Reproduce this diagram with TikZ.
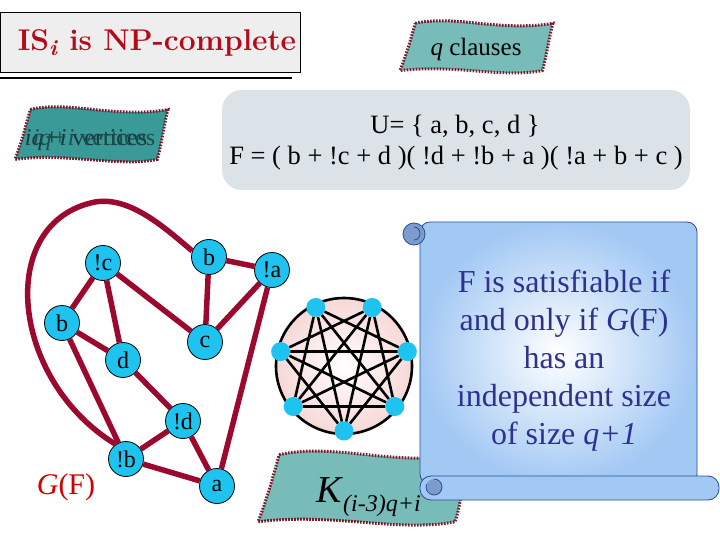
\documentclass[tikz,border=0pt]{standalone}
\usepackage{fontspec}
\newfontfamily\timesf{Liberation Serif}
\definecolor{edgered}{HTML}{9B0A2E}
\definecolor{nodecyan}{HTML}{1EC3EF}
\definecolor{titlered}{HTML}{B5091C}
\definecolor{titlegray}{HTML}{EEEEEE}
\definecolor{teall}{HTML}{77BCB8}
\definecolor{teald}{HTML}{3A9A98}
\definecolor{dotred}{HTML}{7A1A28}
\definecolor{formbg}{HTML}{DCE3E8}
\definecolor{scrollblue}{HTML}{A2C8F4}
\definecolor{curlblue}{HTML}{7C9DCC}
\definecolor{scrollline}{HTML}{2A4C9C}
\definecolor{scrolltext}{HTML}{2E3192}
\definecolor{pinkf}{HTML}{F6D8D6}
\definecolor{gfred}{HTML}{D00000}
\definecolor{vtext}{HTML}{153A3A}
\tikzset{
  gn/.style={circle, fill=nodecyan, draw=black, line width=0.8pt, minimum size=35pt, inner sep=0pt, font=\timesf\fontsize{24}{24}\selectfont},
  kn/.style={circle, fill=nodecyan, draw=none, minimum size=19pt, inner sep=0pt},
  ge/.style={draw=edgered, line width=5.5pt},
  ke/.style={draw=black, line width=2.6pt},
  bannerline/.style={draw=dotred, line width=3pt, dash pattern=on 1.6pt off 1.4pt},
}
\newcommand\mybanner[5]{%
  \begin{scope}[shift={(#1,#2)},x=#3pt,y=-#4pt]
    \draw[bannerline,fill=#5] (0.1,0.06) .. controls (0.35,-0.1) and (0.65,0.22) .. (1,0.06)
      .. controls (0.97,0.35) and (0.96,0.65) .. (0.93,0.92)
      .. controls (0.66,1.06) and (0.36,0.8) .. (0,0.92)
      .. controls (0.04,0.65) and (0.07,0.35) .. (0.1,0.06) -- cycle;
  \end{scope}}
\begin{document}
\begin{tikzpicture}[x=1pt,y=-1pt]
\useasboundingbox (0,0) rectangle (720,540);
% title
\draw[fill=titlegray, line width=0.9pt] (0.5,12) rectangle (300,72);
\node[font=\bfseries\fontsize{30}{30}\selectfont, text=titlered] (title) at (157,43) {IS\raisebox{-5pt}{\fontsize{22}{22}\selectfont\textit{i}} is NP-complete};
\draw[line width=1.2pt] (0,78) -- (292,78);
% banners top
\mybanner{400}{20}{153}{55}{teall}
\node[font=\timesf\fontsize{25}{25}\selectfont] (qc) at (476,49) {\textit{q} clauses};
\mybanner{15}{106}{153}{58}{teald}
\node[font=\timesf\fontsize{24}{24}\selectfont, text=vtext] (vt1) at (86,140) {\textit{iq+i} vertices};
\node[font=\timesf\fontsize{24}{24}\selectfont, text=vtext!80!teald] (vt2) at (94,140) {\textit{iq+i} vertices};
% formula box
\fill[formbg, rounded corners=20pt] (222,90) rectangle (690,190);
\node[font=\timesf\fontsize{26.5}{26.5}\selectfont] (uset) at (455,126) {U= \{ a, b, c, d \}};
\node[font=\timesf\fontsize{26.5}{26.5}\selectfont] (fform) at (456,158) {F = ( b + !c + d )( !d + !b + a )( !a + b + c )};
% graph G(F)
\node[gn] (nc) at (103,263) {!c};
\node[gn] (b1) at (209,257) {b};
\node[gn] (na) at (272,270) {!a};
\node[gn] (b2) at (62,323) {b};
\node[gn] (c) at (205,342) {c};
\node[gn] (d) at (123,360) {d};
\node[gn] (nd) at (183,421) {!d};
\node[gn] (nb) at (126,459) {!b};
\node[gn] (a) at (217,486) {a};
\draw[ge] (nc) -- (b2);
\draw[ge] (nc) -- (d);
\draw[ge] (nc) -- (c);
\draw[ge] (b2) -- (d);
\draw[ge] (b2) -- (nb);
\draw[ge] (d) -- (nd);
\draw[ge] (nd) -- (nb);
\draw[ge] (nd) -- (a);
\draw[ge] (nb) -- (a);
\draw[ge] (b1) -- (na);
\draw[ge] (b1) -- (c);
\draw[ge] (na) -- (c);
\draw[ge] (na) -- (a);
\draw[ge] (nb.125) .. controls (10,380) and (-5,222) .. (95,202) .. controls (130,196) and (165,228) .. (b1.160);
\node[text=gfred, font=\timesf\fontsize{30}{30}\selectfont] (gf) at (66,487) {\textit{G}(F)};
% clique
\coordinate (kc) at (344,366);
\shade[inner color=white, outer color=pinkf] (kc) circle[radius=68pt];
\draw[ke] (kc) circle[radius=68pt];
\foreach \i in {0,...,6} {
  \node[kn] (k\i) at ({344+65*cos(270+\i*360/7)},{366-65*sin(270+\i*360/7)}) {};
}
\foreach \i in {0,...,6} {
  \pgfmathtruncatemacro\jj{mod(\i+2,7)}
  \pgfmathtruncatemacro\kk{mod(\i+3,7)}
  \draw[ke] (k\i) -- (k\jj);
  \draw[ke] (k\i) -- (k\kk);
}
% K banner
\mybanner{258}{450}{212}{78}{teall}
\node[anchor=base west, font=\timesf\fontsize{38}{38}\selectfont, inner sep=0pt] (kt) at (316,502) {\textit{K}\raisebox{-9pt}{\fontsize{24}{24}\selectfont\textit{(i-3)q+i}}};
% scroll
\shade[inner color=white, outer color=scrollblue, draw=scrollline, line width=0.8pt, rounded corners=10pt] (420,222) rectangle (697,484);
\draw[fill=scrollblue, draw=scrollline, line width=0.8pt, rounded corners=11pt] (420,476) rectangle (719,500);
\fill[curlblue] (434,487) circle[radius=8pt];
\draw[scrollline, line width=0.8pt] (434,479) arc[start angle=90, end angle=-200, radius=8pt];
\draw[fill=curlblue, draw=scrollline, line width=0.8pt] (414,234) circle[radius=11pt];
\draw[scrollline, line width=0.8pt] (414,227) .. controls (422,227) and (422,240) .. (414,240);
\node[align=center, font=\timesf\fontsize{32}{38}\selectfont, text=scrolltext] (st) at (564,361) {F is satisfiable if\\ and only if \textit{G}(F)\\ has an\\ independent size\\ of size \textit{q+1}};
\end{tikzpicture}
\end{document}
